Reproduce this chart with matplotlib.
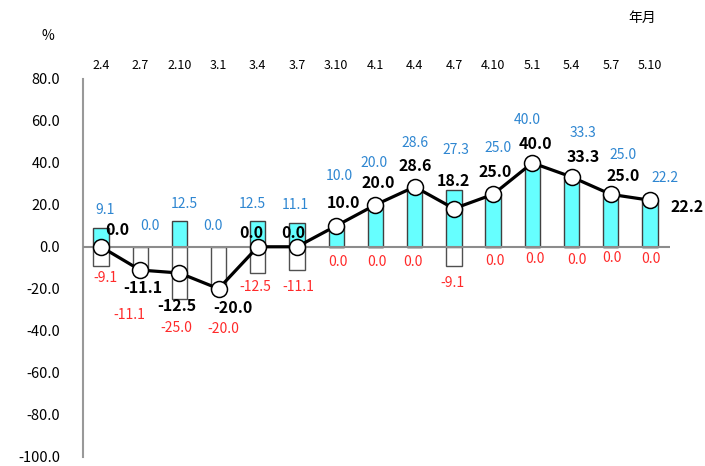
import numpy as np
import matplotlib.pyplot as plt

plt.rcParams['font.family'] = ['Noto Sans CJK JP', 'DejaVu Sans']

# data
periods = ['2.4', '2.7', '2.10', '3.1', '3.4', '3.7', '3.10', '4.1',
           '4.4', '4.7', '4.10', '5.1', '5.4', '5.7', '5.10']
increase = [9.1, 0.0, 12.5, 0.0, 12.5, 11.1, 10.0, 20.0,
            28.6, 27.3, 25.0, 40.0, 33.3, 25.0, 22.2]
decrease = [-9.1, -11.1, -25.0, -20.0, -12.5, -11.1, 0.0, 0.0,
            0.0, -9.1, 0.0, 0.0, 0.0, 0.0, 0.0]
net = [0.0, -11.1, -12.5, -20.0, 0.0, 0.0, 10.0, 20.0,
       28.6, 18.2, 25.0, 40.0, 33.3, 25.0, 22.2]

# label offsets in pixels (dx right, dy down)
net_off = [(16, -17), (3, 18), (-3, 33), (14, 19), (-6, -14), (-4, -14),
           (7, -23), (3, -22), (1, -21), (0, -28), (2, -22), (3, -19),
           (12, -20), (12, -18), (37, 7)]
inc_off = [(4, -18), (10, -21), (5, -17), (-6, -21), (-5, -17), (-2, -18),
           (3, -50), (-1, -42), (0, -44), (2, -40), (5, -46), (-5, -43),
           (11, -44), (12, -39), (15, -22)]
dec_off = [(5, 12), (-11, 45), (-3, 29), (5, 40), (-2, 14), (1, 17),
           (2, 15), (1, 15), (-2, 15), (-1, 17), (2, 14), (3, 12),
           (5, 13), (1, 11), (1, 12)]

fig = plt.figure(figsize=(7.05, 4.66), dpi=100)
ax = fig.add_axes([82.5 / 705, 1 - 456.5 / 466, (670 - 82.5) / 705, (456.5 - 79) / 466])

x = np.arange(len(periods))
w = 0.39
ax.bar(x, increase, width=w, color='#66FFFF', edgecolor='#404040', linewidth=1, zorder=2)
ax.bar(x, decrease, width=w, color='white', edgecolor='#505050', linewidth=1, zorder=2)
ax.axhline(0, color='#8c8c8c', linewidth=1.5, zorder=3)
ax.plot(x, net, color='black', linewidth=2.3, marker='o', markersize=11.5,
        markerfacecolor='white', markeredgecolor='black', markeredgewidth=1.1, zorder=4)

for i in range(len(periods)):
    ax.annotate(f'{increase[i]:.1f}', (x[i], increase[i]), xytext=(inc_off[i][0], -inc_off[i][1]),
                textcoords='offset pixels', ha='center', va='center', fontsize=10,
                color='#2E86D1', zorder=5)
    ax.annotate(f'{decrease[i]:.1f}', (x[i], decrease[i]), xytext=(dec_off[i][0], -dec_off[i][1]),
                textcoords='offset pixels', ha='center', va='center', fontsize=10,
                color='#FF2A2A', zorder=5)
    ax.annotate(f'{net[i]:.1f}', (x[i], net[i]), xytext=(net_off[i][0], -net_off[i][1]),
                textcoords='offset pixels', ha='center', va='center', fontsize=11.5,
                fontweight='bold', color='black', zorder=6)

ax.set_xlim(-0.47, 14.51)
ax.set_ylim(-100, 80)
ax.set_yticks(np.arange(-100, 81, 20))
ax.set_yticklabels([f'{v:.1f}' for v in np.arange(-100, 81, 20)], fontsize=10.5)
ax.set_xticks(x)
ax.set_xticklabels(periods, fontsize=9)
ax.tick_params(axis='x', top=True, labeltop=True, bottom=False, labelbottom=False,
               length=0, pad=5)
ax.tick_params(axis='y', length=0, pad=16)

for s in ['top', 'right', 'bottom']:
    ax.spines[s].set_visible(False)
ax.spines['left'].set_color('#999999')
ax.spines['left'].set_linewidth(1.5)

fig.text(48 / 705, 1 - 36 / 466, '%', ha='center', va='center', fontsize=10)
fig.text(642 / 705, 1 - 18 / 466, '年月', ha='center', va='center', fontsize=10)

fig.savefig('out.png', dpi=100)
